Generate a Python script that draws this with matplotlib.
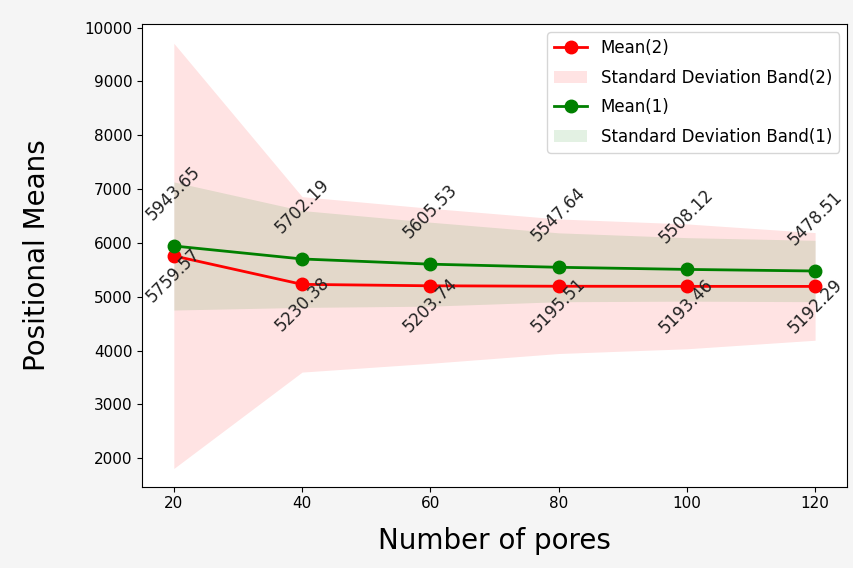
import numpy as np
import matplotlib.pyplot as plt

# Number of pores on the x axis
pores = [20, 40, 60, 80, 100, 120]

# Series (2): red
mean_2 = [5759.57, 5230.38, 5203.74, 5195.51, 5193.46, 5192.29]
std_2 = [3950, 1630, 1440, 1250, 1160, 1000]

# Series (1): green
mean_1 = [5943.65, 5702.19, 5605.53, 5547.64, 5508.12, 5478.51]
std_1 = [1190, 900, 780, 640, 590, 570]


def main():
    fig = plt.figure(figsize=(8.54, 5.68), dpi=100, facecolor='#f5f5f5')
    ax = fig.add_axes([0.166, 0.143, 0.826, 0.815])

    x = np.array(pores)
    m2, s2 = np.array(mean_2), np.array(std_2)
    m1, s1 = np.array(mean_1), np.array(std_1)

    ax.plot(x, m2, color='red', marker='o', markersize=9, linewidth=2,
            label='Mean(2)')
    ax.fill_between(x, m2 - s2, m2 + s2, color='red', alpha=0.11,
                    linewidth=0, label='Standard Deviation Band(2)')
    ax.plot(x, m1, color='green', marker='o', markersize=9, linewidth=2,
            label='Mean(1)')
    ax.fill_between(x, m1 - s1, m1 + s1, color='green', alpha=0.11,
                    linewidth=0, label='Standard Deviation Band(1)')

    # value labels, red below, green above
    for xi, yi in zip(x, m2):
        ax.annotate(f'{yi:.2f}', (xi, yi), textcoords='offset points',
                    xytext=(0, 8), ha='center', va='top', rotation=45,
                    fontsize=12, color='#222222')
    for xi, yi in zip(x, m1):
        ax.annotate(f'{yi:.2f}', (xi, yi), textcoords='offset points',
                    xytext=(0, 16), ha='center', va='bottom', rotation=45,
                    fontsize=12, color='#222222')

    ax.set_xticks(pores)
    ax.set_yticks(range(2000, 10001, 1000))
    ax.set_xlim(15, 125)
    ax.set_ylim(1470, 10070)
    ax.tick_params(labelsize=11, pad=3)
    ax.set_xlabel('Number of pores', fontsize=20, labelpad=12)
    ax.set_ylabel('Positional Means', fontsize=20, labelpad=24)
    ax.legend(loc='upper right', fontsize=12, labelspacing=0.7)

    fig.savefig('out.png', dpi=100, facecolor=fig.get_facecolor())
    plt.close()


if __name__ == '__main__':
    main()
